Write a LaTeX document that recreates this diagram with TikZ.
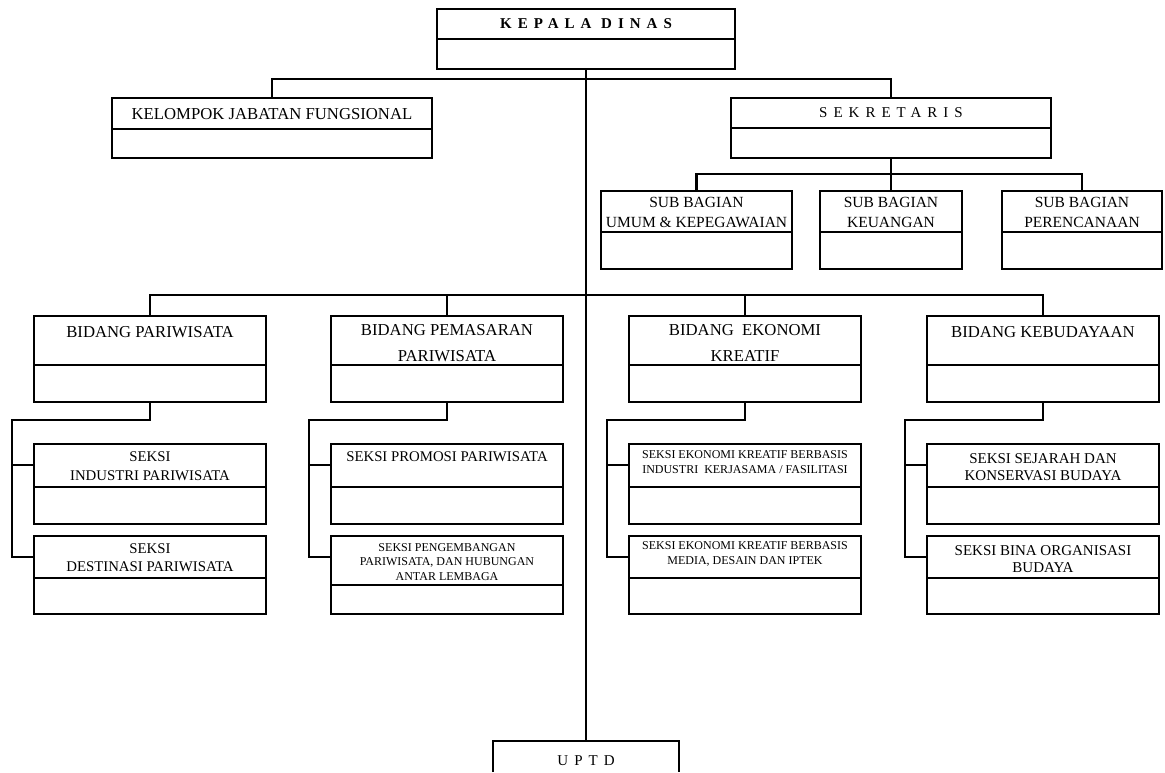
\documentclass[tikz,border=0pt]{standalone}
\usepackage{fontspec}
\setmainfont{Liberation Serif}
\newfontfamily\spcfont[LetterSpace=40]{Liberation Serif}
\usetikzlibrary{calc}
\tikzset{
  ln/.style={line width=2.2pt},
  obx/.style={draw, line width=2.2pt, inner sep=0pt, outer sep=0pt},
  txt/.style={inner sep=0pt, align=center, anchor=center},
  fbig/.style={font=\fontsize{16.7}{26}\selectfont},
  fsub/.style={font=\fontsize{15.5}{20}\selectfont},
  fsek/.style={font=\fontsize{14.8}{18.5}\selectfont},
  fkeb/.style={font=\fontsize{15}{16.5}\selectfont},
  fsml/.style={font=\fontsize{12}{14.5}\selectfont},
  fspc/.style={font=\spcfont\fontsize{15}{18}\selectfont},
}
% name, x1, y1, x2, y2, ydiv
\newcommand{\obox}[6]{%
  \node[obx, minimum width={#4pt-#2pt}, minimum height={#5pt-#3pt}] (#1) at ({(#2+#4)/2},{(#3+#5)/2}) {};
  \draw[ln] (#1.west |- 0,#6) -- (#1.east |- 0,#6);
}
% bidang, seksi1, seksi2, bracket x
\newcommand{\brk}[4]{%
  \coordinate (#1c) at (#4,420);
  \draw[ln] (#1.south) |- (#1c) |- ($(#3.north west)+(0,21)$);
  \draw[ln] ($(#2.north west)+(0,21)$) -| (#1c);
}
\begin{document}
\begin{tikzpicture}[x=1pt, y=-1pt]
\useasboundingbox (0,0) rectangle (1165,772);

% top level
\obox{kd}{437}{9}{735}{69}{39}
\node[txt, fspc] (kdt) at (586,24) {\bfseries KEPALA\ DINAS};
\obox{kjf}{112}{98}{432}{158}{129}
\node[txt, fbig] (kjft) at (272,114) {KELOMPOK JABATAN FUNGSIONAL};
\obox{sek}{731}{98}{1051}{158}{128}
\node[txt, fspc] (sekt) at (891,113) {SEKRETARIS};

% sub bagian
\obox{sba}{601}{191}{792}{269}{232}
\node[txt, fsub] (sbat) at (696.5,212) {SUB BAGIAN\\UMUM \& KEPEGAWAIAN};
\obox{sbb}{820}{191}{962}{269}{232}
\node[txt, fsub] (sbbt) at (891,212) {SUB BAGIAN\\KEUANGAN};
\obox{sbc}{1002}{191}{1162}{269}{232}
\node[txt, fsub] (sbct) at (1082,212) {SUB BAGIAN\\PERENCANAAN};

% bidang
\obox{bp}{34}{316}{266}{402}{365}
\node[txt, fbig] (bpt) at (150,332) {BIDANG PARIWISATA};
\obox{bpm}{331}{316}{563}{402}{365}
\node[txt, fbig] (bpmt) at (447,343) {BIDANG PEMASARAN\\PARIWISATA};
\obox{bek}{629}{316}{861}{402}{365}
\node[txt, fbig] (bekt) at (745,343) {BIDANG\ \ EKONOMI\\KREATIF};
\obox{bk}{927}{316}{1159}{402}{365}
\node[txt, fbig] (bkt) at (1043,332) {BIDANG KEBUDAYAAN};

% seksi
\obox{bpa}{34}{444}{266}{524}{487}
\node[txt, fsek] (bpat) at (150,466) {SEKSI\\INDUSTRI PARIWISATA};
\obox{bpb}{34}{536}{266}{614}{578}
\node[txt, fsek] (bpbt) at (150,557.5) {SEKSI\\DESTINASI PARIWISATA};

\obox{bpma}{331}{444}{563}{524}{487}
\node[txt, fsek] (bpmat) at (447,457) {SEKSI PROMOSI PARIWISATA};
\obox{bpmb}{331}{536}{563}{614}{585}
\node[txt, fsml] (bpmbt) at (447,562) {SEKSI PENGEMBANGAN\\PARIWISATA, DAN HUBUNGAN\\ANTAR LEMBAGA};

\obox{beka}{629}{444}{861}{524}{487}
\node[txt, fsml] (bekat) at (745,462) {SEKSI EKONOMI KREATIF BERBASIS\\INDUSTRI\ \ KERJASAMA / FASILITASI};
\obox{bekb}{629}{536}{861}{614}{578}
\node[txt, fsml] (bekbt) at (745,554) {SEKSI EKONOMI KREATIF BERBASIS\\MEDIA, DESAIN DAN IPTEK};

\obox{bka}{927}{444}{1159}{524}{487}
\node[txt, fkeb] (bkat) at (1043,467) {SEKSI SEJARAH DAN\\KONSERVASI BUDAYA};
\obox{bkb}{927}{536}{1159}{614}{578}
\node[txt, fkeb] (bkbt) at (1043,559) {SEKSI BINA ORGANISASI\\BUDAYA};

% UPTD (cut by the lower edge)
\node[inner sep=0pt, outer sep=0pt, minimum width=186pt, minimum height=31pt] (uptd) at (586,756.5) {};
\draw[ln] (uptd.south west) |- (uptd.north east) -- (uptd.south east);
\node[txt, fspc] (uptdt) at (586,761) {UPTD};

% connectors
\coordinate (bus1) at (586,79);
\coordinate (bus2) at (891,174);
\coordinate (bus3) at (586,295);
\draw[ln] (kd.south) -- (uptd.north);
\draw[ln] (kjf.north) |- (bus1) -| (sek.north);
\draw[ln] (sek.south) -- (sbb.north);
\draw[ln] (sba.north) |- (bus2) -| (sbc.north);
\draw[ln] (bp.north) |- (bus3) -| (bk.north);
\draw[ln] (bpm.north) |- (bus3);
\draw[ln] (bek.north) |- (bus3);

\brk{bp}{bpa}{bpb}{12}
\brk{bpm}{bpma}{bpmb}{309}
\brk{bek}{beka}{bekb}{607}
\brk{bk}{bka}{bkb}{905}
\end{tikzpicture}
\end{document}
